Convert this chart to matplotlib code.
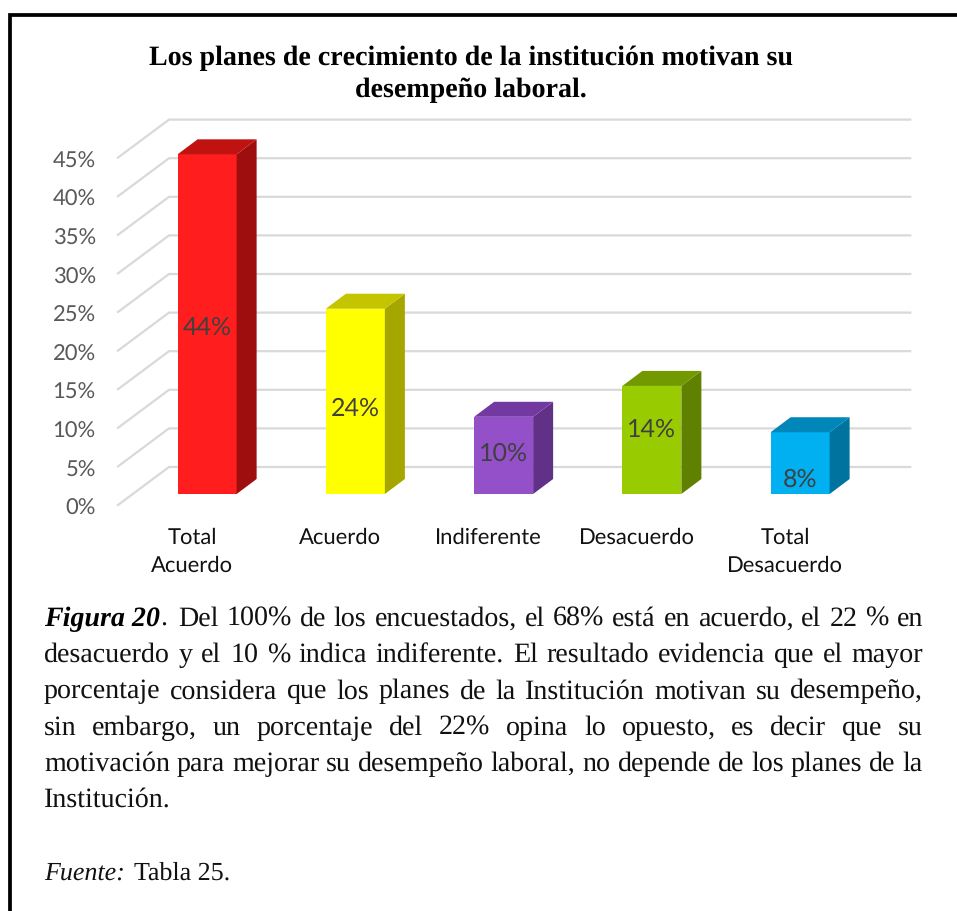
import matplotlib
matplotlib.use("Agg")
import matplotlib.pyplot as plt
from matplotlib.patches import Polygon, Rectangle
from matplotlib.ticker import FuncFormatter
from matplotlib.transforms import ScaledTranslation

plt.rcParams["text.hinting"] = "no_hinting"
plt.rcParams["text.hinting_factor"] = 1

W, H = 957, 911

categories = ["Total\nAcuerdo", "Acuerdo", "Indiferente", "Desacuerdo", "Total\nDesacuerdo"]
values = [44, 24, 10, 14, 8]
label_pos = [21.6, 11.05, 5.25, 8.3, 1.8]
front_colors = ["#ff1d1d", "#ffff00", "#9450c8", "#99cc00", "#00b0f0"]
top_colors = ["#c11212", "#c4c400", "#7239a0", "#739900", "#0086b8"]
side_colors = ["#9e0e0e", "#a6a600", "#613188", "#608000", "#00739e"]
ticks = list(range(0, 50, 5))

title = "Los planes de crecimiento de la institución motivan su\ndesempeño laboral."
caption = [
    "Del 100% de los encuestados, el 68% está en acuerdo, el 22 % en",
    "desacuerdo y el 10 % indica indiferente. El resultado evidencia que el mayor",
    "porcentaje considera que los planes de la Institución motivan su desempeño,",
    "sin embargo, un porcentaje del 22% opina lo opuesto, es decir que su",
    "motivación para mejorar su desempeño laboral, no depende de los planes de la",
]

fig = plt.figure(figsize=(W / 100, H / 100), dpi=100)

# plot area = front floor plane of the fake 3d box
left, right, bottom = 118, 859.25, 505
px_per_pct = 7.72
ax = fig.add_axes([left / W, 1 - bottom / H, (right - left) / W, 45 * px_per_pct / H])
ax.set_xlim(-0.5, 4.5)
ax.set_ylim(0, 45)
for s in ax.spines.values():
    s.set_visible(False)

px_x = (right - left) / 5
dep_x = 51 / px_x
dep_y = 38 / px_per_pct
bar_x = 15 / px_x
bar_y = 11 / px_per_pct
bar_w = 59 / px_x
bar_dx = 20 / px_x
bar_dy = 15 / px_per_pct

for t in ticks:
    ax.plot([-0.5, -0.5 + dep_x, 4.5 + dep_x], [t, t + dep_y, t + dep_y], color="#d9d9d9",
            lw=1.6, clip_on=False, zorder=1, solid_joinstyle="miter")

xs = [i + bar_x for i in range(len(values))]
ax.bar(xs, values, bottom=bar_y, width=bar_w, color=front_colors, zorder=3, clip_on=False)
for x, v, top, side in zip(xs, values, top_colors, side_colors):
    x0, x1 = x - bar_w / 2, x + bar_w / 2
    y0, y1 = bar_y, bar_y + v
    ax.add_patch(Polygon([(x1, y0), (x1 + bar_dx, y0 + bar_dy), (x1 + bar_dx, y1 + bar_dy), (x1, y1)],
                         fc=side, ec="none", zorder=3, clip_on=False))
    ax.add_patch(Polygon([(x0, y1), (x0 + bar_dx, y1 + bar_dy), (x1 + bar_dx, y1 + bar_dy), (x1, y1)],
                         fc=top, ec="none", zorder=3, clip_on=False))

for x, v, p in zip(xs, values, label_pos):
    ax.text(x, p + bar_y, "%d%%" % v, ha="center", va="center", fontsize=18,
            family="Lato", color="#404040", zorder=4)

ax.set_yticks(ticks)
ax.yaxis.set_major_formatter(FuncFormatter(lambda v, p: "%d%%" % v))
ax.set_xticks(range(len(categories)))
ax.set_xticklabels(categories, fontsize=16, family="Lato", color="#111111", linespacing=1.55)
ax.tick_params(axis="x", length=0, pad=16)
ax.tick_params(axis="y", length=0, pad=16, labelsize=16, labelcolor="#595959")
for lab in ax.get_yticklabels():
    lab.set_family("Lato")
    lab.set_transform(lab.get_transform() + ScaledTranslation(0, -2 / 100, fig.dpi_scale_trans))
ax.patch.set_alpha(0)

# frame, the page crops it at right and bottom
fig.add_artist(Rectangle((10 / W, -0.01), W, 1.01 - 14.5 / H, transform=fig.transFigure,
                         fc="none", ec="black", lw=2.7, zorder=0))

fig.text(471 / W, 1 - 74.5 / H, title, ha="center", va="center", family="Liberation Serif",
         fontweight="bold", fontsize=20.2, linespacing=1.33, color="black")

SERIF = "Liberation Serif"
FS = 19.9
rend = fig.canvas.get_renderer()


def word_w(s, **kw):
    t = fig.text(0, 0, s, family=SERIF, fontsize=FS, **kw)
    w = t.get_window_extent(rend).width
    t.remove()
    return w


def justified(words, x0, x1, y):
    # each word is placed on its own so the line fills the column
    total = sum(word_w(w) for w in words)
    gap = (x1 - x0 - total) / (len(words) - 1)
    x = x0
    for w in words:
        fig.text(x / W, 1 - y / H, w, family=SERIF, fontsize=FS, va="baseline", color="#111111")
        x += word_w(w) + gap


base, step = 626, 36.2
fig_lab = fig.text(44 / W, 1 - base / H, "Figura 20", family=SERIF, fontsize=20, style="italic",
                   fontweight="bold", va="baseline", color="black")
lab_end = 44 + fig_lab.get_window_extent(rend).width
fig.text(lab_end / W, 1 - base / H, ".", family=SERIF, fontsize=FS, va="baseline", color="#111111")
justified(caption[0].split(" "), lab_end + 18, 923, base)
for i, line in enumerate(caption[1:], 1):
    justified(line.split(" "), 44, 923, base + step * i)
fig.text(44 / W, 1 - (base + step * 5) / H, "Institución.", family=SERIF, fontsize=FS, va="baseline", color="#111111")
fuente = fig.text(44 / W, 1 - (base + step * 7) / H, "Fuente:", family=SERIF, fontsize=19, style="italic",
                  va="baseline", color="#111111")
fig.text(134 / W, 1 - (base + step * 7) / H, "Tabla 25.", family=SERIF, fontsize=19, va="baseline", color="#111111")

fig.savefig("out.png", dpi=100)
